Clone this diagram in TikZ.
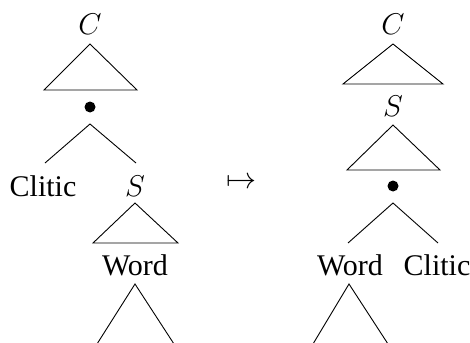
\documentclass[tikz,border=0pt]{standalone}
\usepackage{fix-cm}
\usepackage{fontspec}
\setmainfont{Liberation Serif}
\begin{document}
\begin{tikzpicture}[x=1pt,y=-1pt,
  lbl/.style={inner sep=0pt,font=\fontsize{30}{36}\selectfont},
  edge/.style={line width=0.9pt,line join=miter},
  dot/.style={circle,fill=black,inner sep=0pt,minimum size=11pt}]
\useasboundingbox (0,0) rectangle (470,342);
% left tree
\node[lbl] (C1) at (90,24) {$C$};
\coordinate (t1a) at (90,44); \coordinate (t1l) at (44,90); \coordinate (t1r) at (137,90);
\draw[edge] (t1l) -- (t1a) -- (t1r) -- cycle;
\node[dot] (b1) at (90,107) {};
\coordinate (b1a) at (90,124); \coordinate (b1l) at (45,163); \coordinate (b1r) at (136,163);
\draw[edge] (b1l) -- (b1a) -- (b1r);
\node[lbl] (Cl1) at (43,186) {Clitic};
\node[lbl] (S1) at (135,186) {$S$};
\coordinate (t2a) at (135,203); \coordinate (t2l) at (93,243); \coordinate (t2r) at (178,243);
\draw[edge] (t2l) -- (t2a) -- (t2r) -- cycle;
\node[lbl] (W1) at (135,265) {Word};
\coordinate (w1a) at (135,284); \coordinate (w1l) at (97,344); \coordinate (w1r) at (174,344);
\draw[edge] (w1l) -- (w1a) -- (w1r);
% arrow
\node[lbl] (map) at (241,183) {$\mapsto$};
% right tree
\node[lbl] (C2) at (393,24) {$C$};
\coordinate (t3a) at (393,44); \coordinate (t3l) at (343,84); \coordinate (t3r) at (443,84);
\draw[edge] (t3l) -- (t3a) -- (t3r) -- cycle;
\node[lbl] (S2) at (393,106) {$S$};
\coordinate (t4a) at (393,125); \coordinate (t4l) at (347,170); \coordinate (t4r) at (440,170);
\draw[edge] (t4l) -- (t4a) -- (t4r) -- cycle;
\node[dot] (b2) at (393,186) {};
\coordinate (b2a) at (393,203); \coordinate (b2l) at (348,243); \coordinate (b2r) at (438,243);
\draw[edge] (b2l) -- (b2a) -- (b2r);
\node[lbl] (W2) at (350,265) {Word};
\node[lbl] (Cl2) at (437,265) {Clitic};
\coordinate (w2a) at (349,284); \coordinate (w2l) at (313,344); \coordinate (w2r) at (388,344);
\draw[edge] (w2l) -- (w2a) -- (w2r);
\end{tikzpicture}
\end{document}
